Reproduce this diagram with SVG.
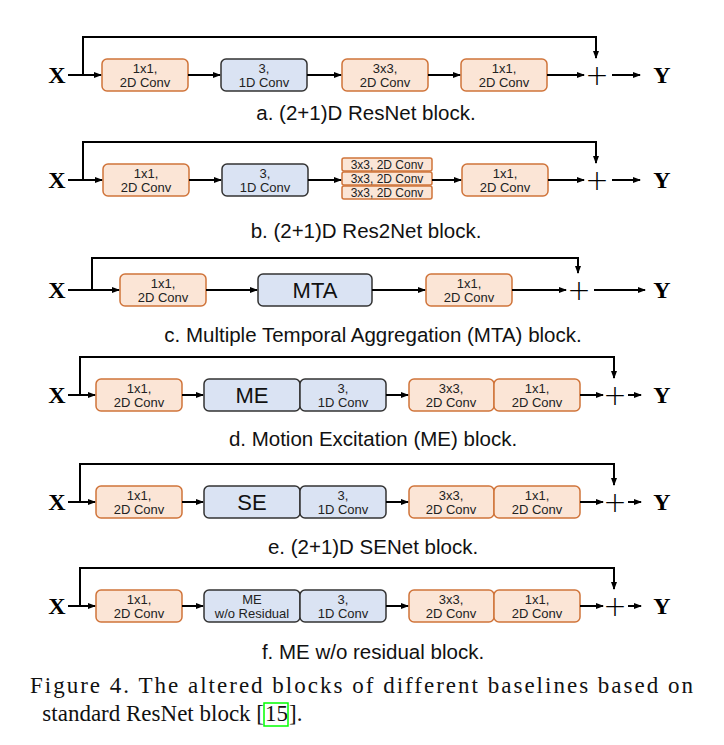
<svg xmlns="http://www.w3.org/2000/svg" width="724" height="745" viewBox="0 0 724 745">
<defs>
<marker id="ah" markerWidth="8" markerHeight="8" refX="7" refY="4" orient="auto" markerUnits="userSpaceOnUse"><path d="M0,1 L8,4 L0,7 Z" fill="#000"/></marker>
<style>
.o{fill:#fbe5d6;stroke:#d0743a;stroke-width:1.5}
.b{fill:#dae3f3;stroke:#333;stroke-width:1.5}
.t{font-family:"Liberation Sans",Arial,sans-serif;font-size:13px;text-anchor:middle;fill:#222}
.big{font-family:"Liberation Sans",Arial,sans-serif;font-size:22px;text-anchor:middle;fill:#111}
.cap{font-family:"Liberation Sans",Arial,sans-serif;font-size:20.5px;text-anchor:middle;fill:#111}
.xy{font-family:"Liberation Serif","Times New Roman",serif;font-size:24px;font-weight:bold;text-anchor:middle}
.pl{font-family:"DejaVu Sans",sans-serif;font-size:28px;font-weight:200;text-anchor:middle}
.l{stroke:#000;stroke-width:2;fill:none}
.fig{font-family:"Liberation Serif","Times New Roman",serif;font-size:23px;fill:#111}
</style>
</defs>
<rect width="724" height="745" fill="#fff"/>

<g id="rowa">
<text class="xy" x="57" y="83">X</text>
<g id="a1"><rect class="o" x="102" y="59" width="86" height="32" rx="5"/><text class="t" x="145" y="73">1x1,</text><text class="t" x="145" y="87">2D Conv</text></g>
<g id="a2"><rect class="b" x="221" y="59" width="86" height="32" rx="5"/><text class="t" x="264" y="73">3,</text><text class="t" x="264" y="87">1D Conv</text></g>
<g id="a3"><rect class="o" x="342" y="59" width="86" height="32" rx="5"/><text class="t" x="385" y="73">3x3,</text><text class="t" x="385" y="87">2D Conv</text></g>
<g id="a4"><rect class="o" x="461" y="59" width="86" height="32" rx="5"/><text class="t" x="504" y="73">1x1,</text><text class="t" x="504" y="87">2D Conv</text></g>
<text class="pl" x="597" y="85">+</text>
<text class="xy" x="662" y="83">Y</text>
<text class="cap" x="366" y="120">a. (2+1)D ResNet block.</text>
</g>
<g id="rowb">
<text class="xy" x="57" y="188">X</text>
<g id="b1"><rect class="o" x="103" y="164" width="86" height="32" rx="5"/><text class="t" x="146" y="178">1x1,</text><text class="t" x="146" y="192">2D Conv</text></g>
<g id="b2"><rect class="b" x="222" y="164" width="86" height="32" rx="5"/><text class="t" x="265" y="178">3,</text><text class="t" x="265" y="192">1D Conv</text></g>
<g id="b3"><rect class="o" x="342" y="158" width="90" height="13" rx="2"/><text class="t" x="387" y="169" style="font-size:12px">3x3, 2D Conv</text>
<rect class="o" x="342" y="172" width="90" height="13" rx="2"/><text class="t" x="387" y="183" style="font-size:12px">3x3, 2D Conv</text>
<rect class="o" x="342" y="186" width="90" height="13" rx="2"/><text class="t" x="387" y="197" style="font-size:12px">3x3, 2D Conv</text></g>
<g id="b4"><rect class="o" x="462" y="164" width="86" height="32" rx="5"/><text class="t" x="505" y="178">1x1,</text><text class="t" x="505" y="192">2D Conv</text></g>
<text class="pl" x="597" y="190">+</text>
<text class="xy" x="662" y="188">Y</text>
<text class="cap" x="366" y="238">b. (2+1)D Res2Net block.</text>
</g>
<g id="rowc">
<text class="xy" x="57" y="298">X</text>
<g id="c1"><rect class="o" x="120" y="274" width="86" height="32" rx="5"/><text class="t" x="163" y="288">1x1,</text><text class="t" x="163" y="302">2D Conv</text></g>
<g id="c2"><rect class="b" x="258" y="274" width="114" height="32" rx="5"/><text class="big" x="315" y="298">MTA</text></g>
<g id="c3"><rect class="o" x="426" y="274" width="86" height="32" rx="5"/><text class="t" x="469" y="288">1x1,</text><text class="t" x="469" y="302">2D Conv</text></g>
<text class="pl" x="579" y="300">+</text>
<text class="xy" x="662" y="298">Y</text>
<text class="cap" x="373" y="342">c. Multiple Temporal Aggregation (MTA) block.</text>
</g>
<g id="rowd">
<text class="xy" x="57" y="403">X</text>
<g id="d1"><rect class="o" x="96" y="379" width="86" height="32" rx="5"/><text class="t" x="139" y="393">1x1,</text><text class="t" x="139" y="407">2D Conv</text></g>
<g id="d2"><rect class="b" x="204" y="379" width="96" height="32" rx="5"/><text class="big" x="252" y="403">ME</text></g>
<g id="d3"><rect class="b" x="300" y="379" width="86" height="32" rx="5"/><text class="t" x="343" y="393">3,</text><text class="t" x="343" y="407">1D Conv</text></g>
<g id="d4"><rect class="o" x="409" y="379" width="85" height="32" rx="5"/><text class="t" x="451" y="393">3x3,</text><text class="t" x="451" y="407">2D Conv</text></g>
<g id="d5"><rect class="o" x="494" y="379" width="86" height="32" rx="5"/><text class="t" x="537" y="393">1x1,</text><text class="t" x="537" y="407">2D Conv</text></g>
<text class="pl" x="615" y="405">+</text>
<text class="xy" x="662" y="403">Y</text>
<text class="cap" x="373" y="446">d. Motion Excitation (ME) block.</text>
</g>
<g id="rowe">
<text class="xy" x="57" y="510">X</text>
<g id="e1"><rect class="o" x="96" y="486" width="86" height="32" rx="5"/><text class="t" x="139" y="500">1x1,</text><text class="t" x="139" y="514">2D Conv</text></g>
<g id="e2"><rect class="b" x="204" y="486" width="96" height="32" rx="5"/><text class="big" x="252" y="510">SE</text></g>
<g id="e3"><rect class="b" x="300" y="486" width="86" height="32" rx="5"/><text class="t" x="343" y="500">3,</text><text class="t" x="343" y="514">1D Conv</text></g>
<g id="e4"><rect class="o" x="409" y="486" width="85" height="32" rx="5"/><text class="t" x="451" y="500">3x3,</text><text class="t" x="451" y="514">2D Conv</text></g>
<g id="e5"><rect class="o" x="494" y="486" width="86" height="32" rx="5"/><text class="t" x="537" y="500">1x1,</text><text class="t" x="537" y="514">2D Conv</text></g>
<text class="pl" x="615" y="512">+</text>
<text class="xy" x="662" y="510">Y</text>
<text class="cap" x="373" y="554">e. (2+1)D SENet block.</text>
</g>
<g id="rowf">
<text class="xy" x="57" y="614">X</text>
<g id="f1"><rect class="o" x="96" y="590" width="86" height="32" rx="5"/><text class="t" x="139" y="604">1x1,</text><text class="t" x="139" y="618">2D Conv</text></g>
<g id="f2"><rect class="b" x="204" y="590" width="96" height="32" rx="5"/><text class="t" x="252" y="604">ME</text><text class="t" x="252" y="618">w/o Residual</text></g>
<g id="f3"><rect class="b" x="300" y="590" width="86" height="32" rx="5"/><text class="t" x="343" y="604">3,</text><text class="t" x="343" y="618">1D Conv</text></g>
<g id="f4"><rect class="o" x="409" y="590" width="85" height="32" rx="5"/><text class="t" x="451" y="604">3x3,</text><text class="t" x="451" y="618">2D Conv</text></g>
<g id="f5"><rect class="o" x="494" y="590" width="86" height="32" rx="5"/><text class="t" x="537" y="604">1x1,</text><text class="t" x="537" y="618">2D Conv</text></g>
<text class="pl" x="615" y="616">+</text>
<text class="xy" x="662" y="614">Y</text>
<text class="cap" x="373" y="659">f. ME w/o residual block.</text>
</g>

<g id="connectors" class="l">
<path class="l" d="M68,75 H101" marker-end="url(#ah)"/>
<path class="l" d="M83,75 V37 H596 V58" marker-end="url(#ah)"/>
<path class="l" d="M188,75 H220" marker-end="url(#ah)"/>
<path class="l" d="M307,75 H341" marker-end="url(#ah)"/>
<path class="l" d="M428,75 H460" marker-end="url(#ah)"/>
<path class="l" d="M547,75 H584" marker-end="url(#ah)"/>
<path class="l" d="M612,75 H640" marker-end="url(#ah)"/>
<path class="l" d="M68,180 H102" marker-end="url(#ah)"/>
<path class="l" d="M83,180 V142 H596 V163" marker-end="url(#ah)"/>
<path class="l" d="M189,180 H221" marker-end="url(#ah)"/>
<path class="l" d="M308,180 H341" marker-end="url(#ah)"/>
<path class="l" d="M432,180 H461" marker-end="url(#ah)"/>
<path class="l" d="M548,180 H584" marker-end="url(#ah)"/>
<path class="l" d="M612,180 H640" marker-end="url(#ah)"/>
<path class="l" d="M68,290 H119" marker-end="url(#ah)"/>
<path class="l" d="M92,290 V258 H578 V273" marker-end="url(#ah)"/>
<path class="l" d="M206,290 H257" marker-end="url(#ah)"/>
<path class="l" d="M372,290 H425" marker-end="url(#ah)"/>
<path class="l" d="M512,290 H566" marker-end="url(#ah)"/>
<path class="l" d="M594,290 H645" marker-end="url(#ah)"/>
<path class="l" d="M68,395 H95" marker-end="url(#ah)"/>
<path class="l" d="M80,395 V357 H614 V378" marker-end="url(#ah)"/>
<path class="l" d="M182,395 H203" marker-end="url(#ah)"/>
<path class="l" d="M386,395 H408" marker-end="url(#ah)"/>
<path class="l" d="M580,395 H603" marker-end="url(#ah)"/>
<path class="l" d="M628,395 H641" marker-end="url(#ah)"/>
<path class="l" d="M68,502 H95" marker-end="url(#ah)"/>
<path class="l" d="M80,502 V464 H614 V485" marker-end="url(#ah)"/>
<path class="l" d="M182,502 H203" marker-end="url(#ah)"/>
<path class="l" d="M386,502 H408" marker-end="url(#ah)"/>
<path class="l" d="M580,502 H603" marker-end="url(#ah)"/>
<path class="l" d="M628,502 H641" marker-end="url(#ah)"/>
<path class="l" d="M68,606 H95" marker-end="url(#ah)"/>
<path class="l" d="M80,606 V568 H614 V589" marker-end="url(#ah)"/>
<path class="l" d="M182,606 H203" marker-end="url(#ah)"/>
<path class="l" d="M386,606 H408" marker-end="url(#ah)"/>
<path class="l" d="M580,606 H603" marker-end="url(#ah)"/>
<path class="l" d="M628,606 H641" marker-end="url(#ah)"/>
</g>

<text class="fig" x="30" y="693" textLength="663" lengthAdjust="spacing">Figure 4. The altered blocks of different baselines based on</text>
<text class="fig" x="264" y="721" text-anchor="end">standard ResNet block [</text>
<text class="fig" x="265" y="721">15</text>
<text class="fig" x="289" y="721">].</text>
<rect x="264" y="703" width="24" height="23" fill="none" stroke="#00ff00" stroke-width="1.5"/>
</svg>
